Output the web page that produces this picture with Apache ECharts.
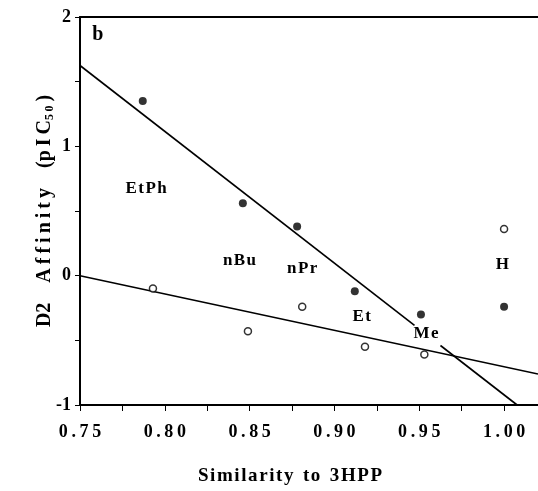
<!DOCTYPE html>
<html>
<head>
<meta charset="utf-8">
<script src="https://cdn.jsdelivr.net/npm/echarts@6/dist/echarts.min.js"></script>
<style>html,body{margin:0;padding:0;background:#fff;}#c{width:538px;height:491px;}</style>
</head>
<body>
<div id="c"></div>
<script>
// Filled circles (x = similarity, y = pIC50)
var filledX = [0.787, 0.846, 0.878, 0.912, 0.951, 1.000];
var filledY = [1.35, 0.56, 0.38, -0.12, -0.30, -0.24];
// Open circles
var openX = [0.793, 0.849, 0.881, 0.918, 0.953, 1.000];
var openY = [-0.10, -0.43, -0.24, -0.55, -0.61, 0.36];
// Compound labels
var labelNames = ["EtPh", "nBu", "nPr", "Et", "Me", "H"];
var labelX = [0.789, 0.844, 0.881, 0.916, 0.954, 0.999];
var labelY = [0.67, 0.12, 0.055, -0.32, -0.445, 0.085];
// Regression line for filled circles (broken around the "Me" label)
var fitFilledA = [[0.75, 1.625], [0.9472, -0.384]];
var fitFilledB = [[0.9625, -0.540], [1.0077, -1.0]];
// Regression line for open circles
var fitOpen = [[0.75, 0.0], [1.02, -0.76]];
var panelLabel = "b";
var xTickLabels = ["0.75", "0.80", "0.85", "0.90", "0.95", "1.00"];
var yTickLabels = ["-1", "0", "1", "2"];

function spaced(s, sp) { return s.split('').join(sp || '\u2009'); }
function zip(a, b) { return a.map(function (v, i) { return [v, b[i]]; }); }

var FONT = '"Liberation Serif", "DejaVu Serif", serif';
var HS = '\u200A';
var chart = echarts.init(document.getElementById('c'));
chart.setOption({
  backgroundColor: '#fff',
  animation: false,
  grid: { left: 80, top: 17, width: 460, height: 400, containLabel: false },
  xAxis: [{
    type: 'value', min: 0.75, max: 1.02, interval: 0.025,
    name: spaced('Similarity', HS) + '\u2002' + spaced('to', HS) + '\u2002' + spaced('3HPP', HS),
    nameLocation: 'middle', nameGap: 62,
    nameTextStyle: { fontFamily: FONT, fontWeight: 'bold', fontSize: 19, color: '#000', padding: [0, 0, 0, -38] },
    axisLine: { show: true, onZero: false, lineStyle: { color: '#000', width: 2 } },
    axisTick: { show: true, inside: false, length: 6, lineStyle: { color: '#000', width: 1 } },
    splitLine: { show: false },
    axisLabel: {
      margin: 18, fontFamily: FONT, fontWeight: 'bold', fontSize: 18, color: '#000',
      showMaxLabel: false,
      formatter: function (v) {
        var k = Math.round(v * 1000);
        if (k % 50 !== 0) return '';
        var s = (k / 1000).toFixed(2);
        return xTickLabels.indexOf(s) >= 0 ? spaced(s) : '';
      }
    }
  }, {
    type: 'value', position: 'top', min: 0.75, max: 1.02,
    axisLine: { show: true, onZero: false, lineStyle: { color: '#000', width: 2 } },
    axisTick: { show: false }, axisLabel: { show: false }, splitLine: { show: false }
  }],
  yAxis: {
    type: 'value', min: -1, max: 2, interval: 0.5,
    name: '{a|D2\u2003' + spaced('Affinity') + '\u2003(' + spaced('pIC') + '}{s|' + spaced('50') + '}{a|\u2009)}',
    nameLocation: 'middle', nameGap: 24, nameRotate: 90, nameMoveOverlap: false,
    nameTextStyle: {
      padding: [0, 0, 0, 0],
      rich: {
        a: { fontFamily: FONT, fontWeight: 'bold', fontSize: 20, color: '#000' },
        s: { fontFamily: FONT, fontWeight: 'bold', fontSize: 12, color: '#000', padding: [10, 0, 0, 0] }
      }
    },
    axisLine: { show: true, onZero: false, lineStyle: { color: '#000', width: 2 } },
    axisTick: { show: true, inside: false, length: 5, lineStyle: { color: '#000', width: 1 } },
    splitLine: { show: false },
    axisLabel: {
      margin: 9, fontFamily: FONT, fontWeight: 'bold', fontSize: 18, color: '#000',
      formatter: function (v) {
        var s = String(Math.round(v * 10) / 10);
        return yTickLabels.indexOf(s) >= 0 ? s : '';
      }
    }
  },
  series: [
    { type: 'line', data: fitFilledA, symbol: 'none', silent: true, lineStyle: { color: '#000', width: 1.6 } },
    { type: 'line', data: fitFilledB, symbol: 'none', silent: true, lineStyle: { color: '#000', width: 1.6 } },
    { type: 'line', data: fitOpen, symbol: 'none', silent: true, lineStyle: { color: '#000', width: 1.6 } },
    { type: 'scatter', data: zip(filledX, filledY), symbol: 'circle', symbolSize: 8, itemStyle: { color: '#000' }, z: 5 },
    { type: 'scatter', data: zip(openX, openY), symbol: 'circle', symbolSize: 7, itemStyle: { color: '#fff', borderColor: '#000', borderWidth: 1.5 }, z: 5 },
    {
      type: 'scatter', symbol: 'circle', symbolSize: 2, z: 6, silent: true,
      itemStyle: { color: 'rgba(255,255,255,0)' },
      data: labelNames.map(function (n, i) { return { name: n, value: [labelX[i], labelY[i]] }; }),
      label: { show: true, position: 'inside', formatter: function (p) { return spaced(p.name, HS); }, fontFamily: FONT, fontWeight: 'bold', fontSize: 17, color: '#000', opacity: 1 }
    },
    {
      type: 'scatter', symbol: 'circle', symbolSize: 2, z: 6, silent: true,
      itemStyle: { color: 'rgba(255,255,255,0)' },
      data: [{ name: panelLabel, value: [0.7605, 1.865] }],
      label: { show: true, position: 'inside', formatter: function (p) { return p.name; }, fontFamily: FONT, fontWeight: 'bold', fontSize: 20, color: '#000', opacity: 1 }
    }
  ]
});
</script>
</body>
</html>
